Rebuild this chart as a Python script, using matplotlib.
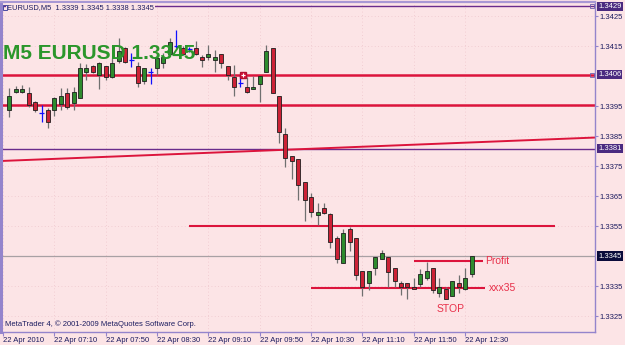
import matplotlib
matplotlib.use("Agg")
import matplotlib.pyplot as plt
from matplotlib.patches import Rectangle
from matplotlib.transforms import blended_transform_factory
import numpy as np

# ---------------- data ----------------
symbol = "EURUSD"
period = "M5"
tick_labels = ["22 Apr 2010", "22 Apr 07:10", "22 Apr 07:50", "22 Apr 08:30",
               "22 Apr 09:10", "22 Apr 09:50", "22 Apr 10:30", "22 Apr 11:10",
               "22 Apr 11:50", "22 Apr 12:30"]
price_ticks = [1.3425, 1.3415, 1.3395, 1.3385, 1.3375, 1.3365, 1.3355, 1.3335, 1.3325]

opens = [1.33937, 1.33997, 1.33997, 1.33994, 1.33963, 1.33927, 1.33937, 1.33937, 1.33957, 1.33994,
         1.33960, 1.33977, 1.34064, 1.34083, 1.34053, 1.34084, 1.34047, 1.34101, 1.34143, 1.34103,
         1.34084, 1.34033, 1.34064, 1.34077, 1.34093, 1.34123, 1.34151, 1.34144, 1.34140, 1.34144,
         1.34114, 1.34114, 1.34103, 1.34123, 1.34083, 1.34047, 1.34027, 1.34014, 1.34006, 1.34023,
         1.34064, 1.34144, 1.33984, 1.33857, 1.33784, 1.33775, 1.33697, 1.33647, 1.33588, 1.33610,
         1.33590, 1.33510, 1.33428, 1.33540, 1.33510, 1.33400, 1.33360, 1.33410, 1.33440, 1.33447,
         1.33410, 1.33360, 1.33360, 1.33348, 1.33357, 1.33377, 1.33410, 1.33328, 1.33340, 1.33318,
         1.33360, 1.33339, 1.33390]
highs = [1.34010, 1.34017, 1.34020, 1.34014, 1.33967, 1.33953, 1.33943, 1.33980, 1.34010, 1.34010,
         1.34014, 1.34093, 1.34090, 1.34087, 1.34097, 1.34084, 1.34110, 1.34177, 1.34148, 1.34127,
         1.34097, 1.34078, 1.34078, 1.34113, 1.34127, 1.34177, 1.34203, 1.34150, 1.34148, 1.34167,
         1.34120, 1.34153, 1.34137, 1.34123, 1.34083, 1.34087, 1.34053, 1.34048, 1.34051, 1.34051,
         1.34153, 1.34144, 1.33984, 1.33877, 1.33784, 1.33775, 1.33697, 1.33660, 1.33627, 1.33627,
         1.33594, 1.33517, 1.33540, 1.33547, 1.33510, 1.33400, 1.33400, 1.33447, 1.33470, 1.33448,
         1.33410, 1.33368, 1.33360, 1.33378, 1.33407, 1.33431, 1.33410, 1.33377, 1.33347, 1.33368,
         1.33387, 1.33410, 1.33450]
lows = [1.33913, 1.33993, 1.33993, 1.33947, 1.33930, 1.33897, 1.33877, 1.33917, 1.33937, 1.33940,
        1.33937, 1.33977, 1.34037, 1.34060, 1.34007, 1.34037, 1.34043, 1.34093, 1.34093, 1.34080,
        1.34013, 1.34023, 1.34023, 1.34053, 1.34077, 1.34120, 1.34142, 1.34120, 1.34131, 1.34120,
        1.34081, 1.34103, 1.34064, 1.34077, 1.34037, 1.33984, 1.34014, 1.33993, 1.34006, 1.33964,
        1.34064, 1.33994, 1.33827, 1.33747, 1.33707, 1.33637, 1.33567, 1.33580, 1.33553, 1.33590,
        1.33478, 1.33427, 1.33428, 1.33468, 1.33370, 1.33317, 1.33337, 1.33387, 1.33440, 1.33347,
        1.33347, 1.33320, 1.33307, 1.33339, 1.33347, 1.33370, 1.33328, 1.33314, 1.33307, 1.33318,
        1.33327, 1.33337, 1.33380]
closes = [1.33983, 1.34007, 1.34007, 1.33953, 1.33937, 1.33927, 1.33897, 1.33977, 1.33984, 1.33947,
          1.33998, 1.34077, 1.34078, 1.34064, 1.34093, 1.34048, 1.34093, 1.34133, 1.34097, 1.34103,
          1.34027, 1.34078, 1.34064, 1.34110, 1.34114, 1.34164, 1.34151, 1.34123, 1.34140, 1.34123,
          1.34103, 1.34123, 1.34114, 1.34094, 1.34053, 1.34014, 1.34027, 1.33996, 1.34014, 1.34051,
          1.34134, 1.33994, 1.33864, 1.33777, 1.33767, 1.33687, 1.33637, 1.33597, 1.33597, 1.33594,
          1.33498, 1.33440, 1.33528, 1.33498, 1.33387, 1.33347, 1.33400, 1.33447, 1.33460, 1.33398,
          1.33368, 1.33348, 1.33348, 1.33339, 1.33390, 1.33401, 1.33337, 1.33347, 1.33307, 1.33368,
          1.33347, 1.33378, 1.33450]

full_levels = [1.34282, 1.34055, 1.33955, 1.33808]
full_level_colors = ["#6a2c8c", "#dc143c", "#dc143c", "#6a2c8c"]
full_level_widths = [1.0, 1.8, 1.8, 1.0]
box_levels = [1.34282, 1.34055, 1.33808]
box_labels = ["1.3429", "1.3406", "1.3381"]

seg_levels = [1.3355, 1.33434, 1.33345]
seg_start = [29, 64, 48]
seg_end = [86, 74.8, 75.1]
seg_texts = ["", "Profit", "xxx35"]
seg_text_bar = [0, 75.1, 75.7]
stop_text, stop_bar, stop_price = "STOP", 67.6, 1.33273

trend_bars = [0, 90]
trend_prices = [1.33767, 1.33843]
obj_marker_bar, obj_marker_price = 37.4, 1.34055

# ---------------- style ----------------
BG = "#fce4e6"
NAVY = "#1c1c60"
FRAME = "#9484cc"
RED = "#dc143c"
TXT_RED = "#e8304a"
W, H = 625, 345
FONT = "Liberation Sans"

fig = plt.figure(figsize=(W / 100, H / 100), dpi=100, facecolor=BG)
ax = fig.add_axes([1.5 / W, 13 / H, 593 / W, 330.3 / H])
ax.set_facecolor(BG)
ax.set_xlim(-0.234, 92.15)
ax.set_ylim(1.331967, 1.342977)

n = len(opens)
bars = np.arange(1, n + 1)
tick_pos = np.arange(0, 8 * len(tick_labels), 8)

# grid (faint dotted)
for tp in tick_pos:
    ax.axvline(tp, color="#eec6cc", lw=0.6, ls=(0, (1, 3)), zorder=0)
for pt in price_ticks:
    ax.axhline(pt, color="#eec6cc", lw=0.6, ls=(0, (1, 3)), zorder=0)

# big label
fig.text(3.3 / W, 1 - 53.5 / H, f"{period} {symbol} {closes[-1]:.4f}",
         fontsize=15, fontweight="bold", color="#2b962b", family=FONT,
         ha="left", va="center", zorder=1)

# level lines
for lv, col, lw in zip(full_levels, full_level_colors, full_level_widths):
    ax.axhline(lv, color=col, lw=lw, zorder=2)
ax.axhline(closes[-1], color="#a8a0a4", lw=0.9, zorder=2)

# trend line
ax.axline((trend_bars[0], trend_prices[0]), (trend_bars[1], trend_prices[1]),
          color=RED, lw=1.4, zorder=2)

# segment levels + labels
for lv, s, e, t, tb in zip(seg_levels, seg_start, seg_end, seg_texts, seg_text_bar):
    ax.hlines(lv, s, e, color=RED, lw=1.5, zorder=2)
    if t:
        ax.text(tb, lv, t, color=TXT_RED, fontsize=7.5, family=FONT,
                ha="left", va="center", zorder=5)
ax.text(stop_bar, stop_price, stop_text, color=TXT_RED, fontsize=7.5,
        family=FONT, ha="left", va="center", zorder=5)

# object marker on the level line
ax.plot([obj_marker_bar], [obj_marker_price], marker="s", ms=4.5, mfc=RED,
        mec="#b01030", zorder=6)
ax.plot([obj_marker_bar], [obj_marker_price], marker="+", ms=3, mec="white",
        mew=0.8, zorder=7)
for lv in full_levels[:2]:
    ax.plot([91.7], [lv], marker="s", ms=2.8, mfc="none", mec="#6a5aa8",
            mew=0.6, zorder=6)

# candles
body_w = 0.62
for x, o, h, l, c in zip(bars, opens, highs, lows, closes):
    if abs(c - o) < 1e-7:
        ax.vlines(x, l, h, color="#1010ff", lw=0.9, zorder=4)
        ax.hlines(o, x - 0.4, x + 0.4, color="#1010ff", lw=0.9, zorder=4)
        continue
    ax.vlines(x, l, h, color="#707070", lw=0.9, zorder=3)
    fc = "#2e8b2e" if c > o else "#cc2236"
    ax.add_patch(Rectangle((x - body_w / 2, min(o, c)), body_w, abs(c - o),
                           fc=fc, ec="#1e1e1e", lw=0.6, zorder=4))

# axes frame
for side in ["left", "right", "top", "bottom"]:
    ax.spines[side].set_color(FRAME)
ax.spines["left"].set_linewidth(2.2)
ax.spines["top"].set_linewidth(1.6)
ax.spines["top"].set_color("#a898d4")
ax.spines["right"].set_linewidth(1.0)
ax.spines["bottom"].set_linewidth(1.0)

# ticks
ax.yaxis.tick_right()
ax.set_yticks(price_ticks)
ax.set_yticklabels([f"{p:.4f}" for p in price_ticks])
ax.set_xticks(tick_pos)
ax.set_xticklabels(tick_labels)
for lab in ax.get_xticklabels():
    lab.set_horizontalalignment("left")
ax.tick_params(axis="x", length=3, width=0.8, color=FRAME, pad=0.6,
               labelsize=5.5, labelcolor=NAVY)
ax.tick_params(axis="y", length=2.2, width=0.8, color=FRAME, pad=1.5,
               labelsize=5.5, labelcolor=NAVY)
for lab in ax.get_xticklabels() + ax.get_yticklabels():
    lab.set_family(FONT)

# price boxes on right axis
tr = blended_transform_factory(ax.transAxes, ax.transData)
for lv, lb in zip(box_levels, box_labels):
    ax.text(1.006, lv, lb, transform=tr, fontsize=5.5, family=FONT,
            color="white", ha="left", va="center", clip_on=False, zorder=10,
            bbox=dict(boxstyle="square,pad=0.15", fc="#4a2a80", ec="none"))
ax.text(1.006, closes[-1], f"{closes[-1]:.4f}", transform=tr, fontsize=5.5,
        family=FONT, color="white", ha="left", va="center", clip_on=False,
        zorder=10, bbox=dict(boxstyle="square,pad=0.15", fc="#0a0a3a", ec="none"))

# header and footer texts
fig.text(7 / W, 1 - 7.3 / H,
         f"{symbol},{period}  {opens[-1]:.4f} {highs[-1]:.4f} {lows[-1]:.4f} {closes[-1]:.4f}",
         fontsize=5.4, family=FONT, color=NAVY, ha="left", va="center", zorder=20,
         bbox=dict(boxstyle="square,pad=0.1", fc=BG, ec="none"))
fig.patches.append(Rectangle((3 / W, 1 - 9.5 / H), 3.5 / W, 4 / H, fill=False,
                             ec="#4a4aa0", lw=0.7, transform=fig.transFigure,
                             figure=fig, zorder=21))
fig.text(5 / W, 1 - 324 / H, "MetaTrader 4, © 2001-2009 MetaQuotes Software Corp.",
         fontsize=5.5, family=FONT, color=NAVY, ha="left", va="center")

fig.savefig("out.png", dpi=100, facecolor=BG)
